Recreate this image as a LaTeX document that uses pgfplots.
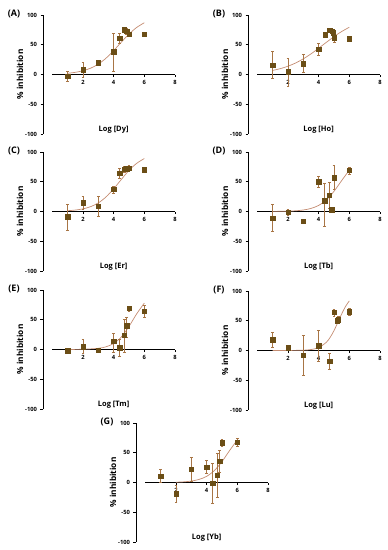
\documentclass[border=0pt]{standalone}
\usepackage{pgfplots}
\pgfplotsset{compat=1.18}
\usepackage{fontspec}
\setmainfont{Open Sans}
\definecolor{mk}{HTML}{6B4E16}
\definecolor{eb}{HTML}{A87545}
\definecolor{cv}{HTML}{C48C72}
\pgfplotsset{
 panel/.style={
  scale only axis, width=132pt, height=119pt,
  xmin=-0.6, xmax=8, ymin=-100, ymax=100,
  axis y line=left, axis x line=middle,
  hide obscured x ticks=false, hide obscured y ticks=false,
  x axis line style={-, shorten <=9.2pt},
  y axis line style={-},
  axis line style={line width=0.7pt},
  xtick={2,4,6,8}, ytick={-100,-50,0,50,100},
  tick align=outside, tick style={black, line width=0.6pt}, major tick length=2.5pt,
  ticklabel style={font=\fontsize{5.8}{6}\selectfont\bfseries},
  /pgf/number format/assume math mode=true,
  xlabel style={at={(rel axis cs:0.535,0.035)}, anchor=center, font=\fontsize{7.5}{8}\selectfont\bfseries},
  ylabel style={at={(rel axis cs:0,0.5)}, anchor=center, yshift=23pt, font=\fontsize{8.3}{9}\selectfont\bfseries},
  ylabel={\% inhibition},
  clip=false,
 },
 curve/.style={cv, line width=0.7pt, no marks, smooth},
 pts/.style={only marks, mark=square*, mark size=2.2pt, mark options={mk, fill=mk},
  error bars/.cd, y dir=both, y explicit,
  error bar style={eb, line width=0.5pt},
  error mark options={rotate=90, eb, mark size=1.4pt, line width=0.5pt}},
}
\newcommand{\plabel}[1]{\node[font=\fontsize{9}{10}\selectfont\bfseries, anchor=center] at (rel axis cs:0,1) [xshift=-29pt, yshift=1pt] {#1};}
\begin{document}
\begin{tikzpicture}[x=1pt,y=1pt]
\useasboundingbox (0,0) rectangle (388,550);
% (A)
\begin{axis}[panel, at={(43pt,416pt)}, anchor=south west, xlabel={Log [Dy]}]
\addplot[curve] coordinates {(1,2.1) (1.5,3.6) (2,6.3) (2.5,10.6) (3,17.4) (3.5,27.3) (4,40.1) (4.5,54.3) (5,67.9) (5.5,79.0) (6,87.0)};
\addplot[pts] coordinates {(1,-3) +- (0,9) (2,8) +- (0,12) (3,20) +- (0,3) (4,38) += (0,31) -= (0,33) (4.4,61) +- (0,9) (4.7,75) +- (0,3) (4.85,73) +- (0,5) (5,68) +- (0,3) (6,68) +- (0,0)};
\plabel{(A)}
\end{axis}
% (B)
\begin{axis}[panel, at={(248pt,416pt)}, anchor=south west, xlabel={Log [Ho]}]
\addplot[curve] coordinates {(1,6.8) (1.5,9.8) (2,13.9) (2.5,19.3) (3,26.3) (3.5,34.6) (4,44.1) (4.5,54.0) (5,63.6) (5.5,72.2) (6,79.4)};
\addplot[pts] coordinates {(1,16) += (0,23) -= (0,23) (2,5) += (0,23) -= (0,25) (3,18) += (0,16) -= (0,15) (4,43) +- (0,10) (4.42,67) +- (0,0) (4.72,74) +- (0,2) (4.87,73) +- (0,2) (4.95,70) +- (0,2) (5.03,62) +- (0,8) (6,60) +- (0,0)};
\plabel{(B)}
\end{axis}
% (C)
\begin{axis}[panel, at={(43pt,279pt)}, anchor=south west, xlabel={Log [Er]}]
\addplot[curve] coordinates {(1,1.3) (1.5,2.4) (2,4.4) (2.5,8.1) (3,14.4) (3.5,24.3) (4,38.0) (4.5,53.8) (5,69.0) (5.5,80.9) (6,89.0)};
\addplot[pts] coordinates {(1,-9) += (0,22) -= (0,23) (2,15) +- (0,11) (3,9) +- (0,17) (4,37) +- (0,6) (4.4,64) +- (0,8) (4.7,71) +- (0,5) (4.85,72) +- (0,3) (5,73) +- (0,4) (6,70) +- (0,0)};
\plabel{(C)}
\end{axis}
% (D)
\begin{axis}[panel, at={(248pt,279pt)}, anchor=south west, xlabel={Log [Tb]}]
\addplot[curve] coordinates {(1,0.2) (1.5,0.3) (2,0.6) (2.5,1.2) (3,2.5) (3.5,5.1) (4,10.2) (4.5,19.4) (5,33.8) (5.5,51.9) (6,69.5)};
\addplot[pts] coordinates {(1,-11) += (0,24) -= (0,23) (2,-1) +- (0,5) (3,-16) +- (0,3) (4,50) +- (0,9) (4.4,18) += (0,29) -= (0,42) (4.7,27) += (0,23) -= (0,22) (4.85,3) +- (0,4) (5,57) +- (0,20) (6,69) +- (0,6)};
\plabel{(D)}
\end{axis}
% (E)
\begin{axis}[panel, at={(43pt,141pt)}, anchor=south west, xlabel={Log [Tm]}]
\addplot[curve] coordinates {(1,0.1) (2,0.4) (3,2.0) (3.5,4.5) (4,10.1) (4.5,21) (5,38.7) (5.5,59.8) (6,78)};
\addplot[pts] coordinates {(1,-2) +- (0,0) (2,5) +- (0,12) (3,-1) +- (0,0) (4,14) += (0,13) -= (0,18) (4.4,3) += (0,15) -= (0,15) (4.7,24) += (0,27) -= (0,29) (4.85,40) += (0,15) -= (0,20) (5,69) +- (0,4) (6,64) +- (0,10)};
\plabel{(E)}
\end{axis}
% (F)
\begin{axis}[panel, at={(248pt,140pt)}, anchor=south west, xlabel={Log [Lu]}]
\addplot[curve] coordinates {(1,0.0) (2,0.1) (3,0.5) (3.5,1.6) (4,4.8) (4.5,13.7) (4.75,22) (5,33.3) (5.25,47.1) (5.5,61.3) (5.75,73.8) (6,83.4)};
\addplot[pts] coordinates {(1,18) +- (0,12) (2,5) +- (0,4) (3,-8) += (0,34) -= (0,34) (4,8) += (0,26) -= (0,26) (4.72,-18) +- (0,13) (5,64) +- (0,6) (5.2,50) +- (0,0) (5.29,52) +- (0,6) (6,65) +- (0,6)};
\plabel{(F)}
\end{axis}
% (G)
\begin{axis}[panel, at={(136pt,8pt)}, anchor=south west, xlabel={Log [Yb]}]
\addplot[curve] coordinates {(2,0.5) (2.5,1.1) (3,2.4) (3.5,5.1) (4,10.3) (4.5,20) (5,35) (5.5,53.8) (6,71.6)};
\addplot[pts] coordinates {(1,11) +- (0,11) (2,-19) +- (0,14) (3,22) +- (0,20) (4,26) +- (0,11) (4.4,-1) += (0,34) -= (0,34) (4.7,12) += (0,37) -= (0,37) (4.85,36) +- (0,19) (5,67) +- (0,6) (6,68) +- (0,7)};
\plabel{(G)}
\end{axis}
\end{tikzpicture}
\end{document}
